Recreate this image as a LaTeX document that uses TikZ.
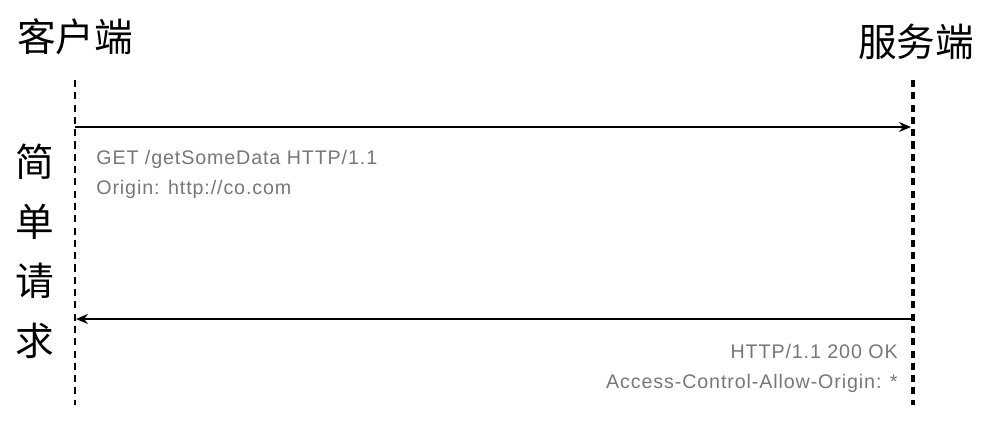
\documentclass[tikz,border=0pt]{standalone}
\usepackage{fontspec}
\setmainfont{Noto Sans CJK SC}
\newfontfamily\msgfont[LetterSpace=4.5]{Liberation Sans}
\usetikzlibrary{positioning,arrows.meta}
\definecolor{msggray}{HTML}{777777}

\begin{document}
\begin{tikzpicture}[x=0.02cm,y=-0.02cm,
		title/.style={inner sep=0pt,font=\fontsize{22}{22}\selectfont},
		msg/.style={inner sep=0pt,text=msggray,font=\msgfont\fontsize{11.2}{12}\selectfont},
		clientline/.style={line width=1.1pt,dash pattern=on 4pt off 3pt},
		serverline/.style={line width=2.2pt,dash pattern=on 4pt off 3pt},
		call/.style={line width=0.9pt,-{Stealth[length=2.4mm,width=2mm]}}]
		\useasboundingbox (0,0) rectangle (990,428);

		\node[title]							(client)	at (75,37)	{客户端};
		\node[title]							(server)	at (916,42)	{服务端};

		\coordinate (c1) at (75,80);
		\coordinate (c2) at (75,405);
		\coordinate (s1) at (913,80);
		\coordinate (s2) at (913,405);
		\draw[clientline] (c1) -- (c2);
		\draw[serverline] (s1) -- (s2);

		\coordinate (reqA) at (75,127);
		\coordinate (reqB) at (911,127);
		\coordinate (resA) at (913,319);
		\coordinate (resB) at (76,319);
		\draw[call] (reqA) -- (reqB);
		\draw[call] (resA) -- (resB);

		\node[title]									(k1)	at (35,162)	{简};
		\node[title,below=1.19cm of k1.center,anchor=center]	(k2)	{单};
		\node[title,below=1.19cm of k2.center,anchor=center]	(k3)	{请};
		\node[title,below=1.19cm of k3.center,anchor=center]	(k4)	{求};

		\node[msg,anchor=west]					(get)		at (96,159)		{GET /getSomeData HTTP/1.1};
		\node[msg,anchor=west]					(origin)	at (96,189)		{Origin: http://co.com};
		\node[msg,anchor=east]					(ok)		at (898,351)	{HTTP/1.1 200 OK};
		\node[msg,anchor=east]					(allow)		at (898,383)	{Access-Control-Allow-Origin: *};
	\end{tikzpicture}
\end{document}
